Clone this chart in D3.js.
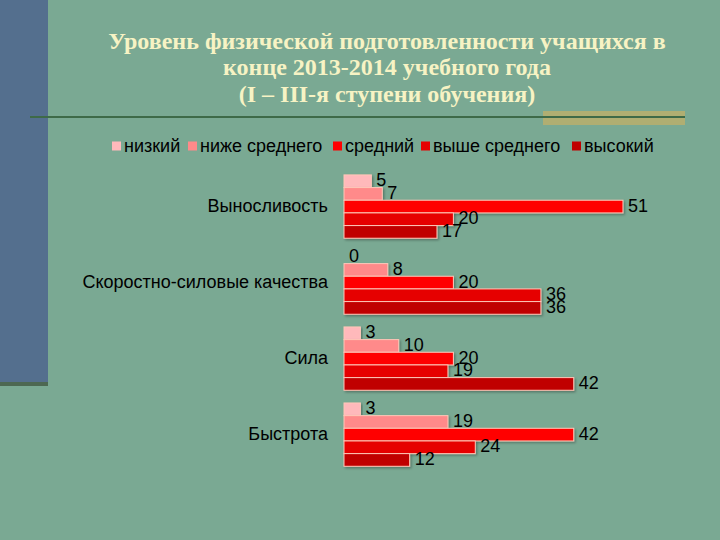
<!DOCTYPE html>
<html><head><meta charset="utf-8">
<script src="https://cdn.jsdelivr.net/npm/d3@7"></script>
<style>body{margin:0;background:#7aa993;}svg{display:block;}</style>
</head><body>
<svg id="c" width="720" height="540"></svg>
<script>
const categories = ["Выносливость", "Скоростно-силовые качества", "Сила", "Быстрота"];
const series = ["низкий", "ниже среднего", "средний", "выше среднего", "высокий"];
const values = {
  "низкий":        [5, 0, 3, 3],
  "ниже среднего": [7, 8, 10, 19],
  "средний":       [51, 20, 20, 42],
  "выше среднего": [20, 36, 19, 24],
  "высокий":       [17, 36, 42, 12]
};
const colors = ["#ffb9bb", "#ff8a8a", "#ff0000", "#e60000", "#c00000"];
const titleLines = ["Уровень физической подготовленности учащихся в", "конце 2013-2014 учебного года", "(I – III-я ступени обучения)"];

const svg = d3.select("#c");
svg.append("rect").attr("width",720).attr("height",540).attr("fill","#7aa993");
// left decorative bar
svg.append("rect").attr("x",0).attr("y",0).attr("width",48).attr("height",382).attr("fill","#546f8e");
svg.append("rect").attr("x",0).attr("y",382).attr("width",48).attr("height",4).attr("fill","#4d6852");
// yellow accent and rule
svg.append("rect").attr("x",543).attr("y",111).attr("width",142).attr("height",14).attr("fill","#b0ae72");
svg.append("rect").attr("x",30).attr("y",116).attr("width",655).attr("height",2).attr("fill","#3e6a48");

// title
svg.append("g").selectAll("text").data(titleLines).join("text")
  .attr("x",387).attr("y",(d,i)=>48.5+i*26.5)
  .attr("text-anchor","middle")
  .attr("font-family","'Liberation Serif','Times New Roman',serif")
  .attr("font-weight","bold").attr("font-size",24)
  .attr("fill","#f7f3c4").text(d=>d);

// defs: shadow
const defs = svg.append("defs");
const f = defs.append("filter").attr("id","sh").attr("x","-5%").attr("y","-20%").attr("width","115%").attr("height","160%");
f.append("feDropShadow").attr("dx",1.5).attr("dy",1.5).attr("stdDeviation",1).attr("flood-color","#000").attr("flood-opacity",0.3);

// scales
const x = d3.scaleLinear().domain([0, 60]).range([344, 344 + 60*5.47]);
const y0 = d3.scaleBand().domain(categories).range([168.6, 472.6]).paddingInner(0.167).paddingOuter(0.083);
const y1 = d3.scaleBand().domain(series).range([0, y0.bandwidth()]);
const color = d3.scaleOrdinal().domain(series).range(colors);

const data = [];
categories.forEach((c,ci)=>series.forEach(s=>data.push({c, s, v: values[s][ci]})));

const g = svg.append("g");
g.selectAll("rect.bar").data(data.filter(d=>d.v>0)).join("rect").attr("class","bar")
  .attr("x", x(0)).attr("y", d=>y0(d.c)+y1(d.s))
  .attr("width", d=>x(d.v)-x(0)).attr("height", y1.bandwidth())
  .attr("fill", d=>color(d.s)).attr("stroke","#ffc8b8").attr("stroke-width",1)
  .attr("filter","url(#sh)");

g.selectAll("text.val").data(data).join("text").attr("class","val")
  .attr("x", d=>x(d.v)+5).attr("y", d=>y0(d.c)+y1(d.s)+y1.bandwidth()/2 - 1)
  .attr("dominant-baseline","central")
  .attr("font-family","'Liberation Sans',Arial,sans-serif").attr("font-size",18)
  .attr("fill","#000").text(d=>d.v);

// category axis labels
const yAxis = d3.axisLeft(y0).tickSize(0).tickPadding(0);
const ax = svg.append("g").attr("transform","translate(328,0)").call(yAxis);
ax.select(".domain").remove();
ax.selectAll("text").attr("font-family","'Liberation Sans',Arial,sans-serif").attr("font-size",18).attr("fill","#000");

// legend
const legX = [112, 188, 333, 421, 572];
const leg = svg.append("g").selectAll("g").data(series).join("g")
  .attr("transform",(d,i)=>`translate(${legX[i]},146)`);
leg.append("rect").attr("x",0).attr("y",-4.5).attr("width",9).attr("height",9).attr("fill",d=>color(d));
leg.append("text").attr("x",12).attr("y",0).attr("dominant-baseline","central")
  .attr("font-family","'Liberation Sans',Arial,sans-serif").attr("font-size",18).attr("fill","#000").text(d=>d);
</script>
</body></html>
